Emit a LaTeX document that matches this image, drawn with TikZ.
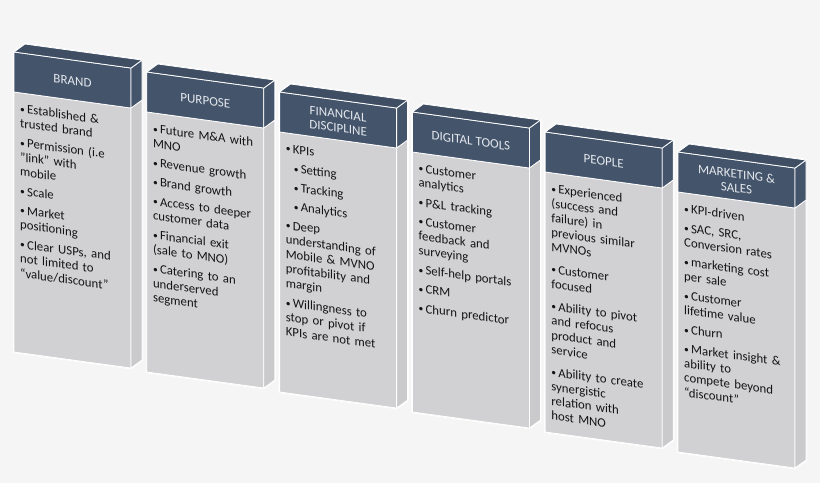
\documentclass[tikz,border=0pt]{standalone}
\usepackage{fontspec}
\setmainfont{Carlito}
\definecolor{bgc}{HTML}{F5F5F5}
\definecolor{hdr}{HTML}{44546A}
\definecolor{hdrtop}{HTML}{3F4E63}
\definecolor{bodyc}{HTML}{D1D1D3}
\definecolor{sidec}{HTML}{CACACC}
\definecolor{hdrtxt}{HTML}{E4E8EE}
\definecolor{bodytxt}{HTML}{141414}
\tikzset{
  face/.style={draw=white, line width=0.8pt, line join=round},
  halo/.style={draw=white, line width=2.6pt, line join=round, opacity=0.8},
  hdrtext/.style={text=hdrtxt, font=\fontsize{13}{14}\selectfont, align=center, inner sep=0pt, transform shape},
  bodytext/.style={text=bodytxt, font=\fontsize{12.8}{14.6}\selectfont, text width=108pt, align=left, anchor=north west, inner sep=0pt, transform shape},
}
\newcommand\mybullet{\makebox[7pt][l]{\raisebox{0.5pt}{\scalebox{0.75}{\textbullet}}}}
\newcommand\fitem{\hangindent=7pt\hangafter=1\noindent\mybullet}
\newcommand\bitem{\par\hangindent=7pt\hangafter=1\noindent\mybullet}
\newcommand\sitem{\par\hangindent=15pt\hangafter=1\noindent\hspace*{8pt}\mybullet}
\newcommand\pillar[5]{%
\begin{scope}[shift={(#2,#3)}, yslant=-0.137]
  \draw[halo] (0,0)--(11,-9.5)--(128,-9.5)--(128,290.5)--(117,300)--(0,300)--cycle;
  \filldraw[face, fill=bodyc] (0,40)--(117,40)--(117,300)--(0,300)--cycle;
  \filldraw[face, fill=sidec] (117,40)--(128,30.5)--(128,290.5)--(117,300)--cycle;
  \filldraw[face, fill=hdr] (0,0)--(117,0)--(117,40)--(0,40)--cycle;
  \filldraw[face, fill=hdr] (117,0)--(128,-9.5)--(128,30.5)--(117,40)--cycle;
  \filldraw[face, fill=hdrtop] (0,0)--(11,-9.5)--(128,-9.5)--(117,0)--cycle;
  \node[hdrtext] (#1-t) at (58.5,21) {#4};
  \node[bodytext] (#1-b) at (6,51) {\setlength\parskip{4.6pt}#5};
\end{scope}}
\begin{document}
\begin{tikzpicture}[x=1pt,y=-1pt]
\fill[bgc] (0,0) rectangle (820,483);
\useasboundingbox (0,0) rectangle (820,483);
\pillar{p1}{14}{52}{BRAND}{%
\fitem Established \&\\ trusted brand
\bitem Permission (i.e\\ "link" with\\ mobile
\bitem Scale
\bitem Market\\ positioning
\bitem Clear USPs, and\\ not limited to\\ “value/discount”}
\pillar{p2}{146.8}{72}{PURPOSE}{%
\fitem Future M\&A with\\ MNO
\bitem Revenue growth
\bitem Brand growth
\bitem Access to deeper\\ customer data
\bitem Financial exit\\ (sale to MNO)
\bitem Catering to an\\ underserved\\ segment}
\pillar{p3}{279.6}{92}{FINANCIAL\\ DISCIPLINE}{%
\fitem KPIs
\sitem Setting
\sitem Tracking
\sitem Analytics
\bitem Deep\\ understanding of\\ Mobile \& MVNO\\ profitability and\\ margin
\bitem Willingness to\\ stop or pivot if\\ KPIs are not met}
\pillar{p4}{412.4}{112}{DIGITAL TOOLS}{%
\fitem Customer\\ analytics
\bitem P\&L tracking
\bitem Customer\\ feedback and\\ surveying
\bitem Self-help portals
\bitem CRM
\bitem Churn predictor}
\pillar{p5}{545.2}{132}{PEOPLE}{%
\setlength\parskip{7.5pt}%
\fitem Experienced\\ (success and\\ failure) in\\ previous similar\\ MVNOs
\bitem Customer\\ focused
\bitem Ability to pivot\\ and refocus\\ product and\\ service
\bitem Ability to create\\ synergistic\\ relation with\\ host MNO}
\pillar{p6}{678}{152}{MARKETING \&\\ SALES}{%
\fitem KPI-driven
\bitem SAC, SRC,\\ Conversion rates
\bitem marketing cost\\ per sale
\bitem Customer\\ lifetime value
\bitem Churn
\bitem Market insight \&\\ ability to\\ compete beyond\\ “discount”}
\end{tikzpicture}
\end{document}
